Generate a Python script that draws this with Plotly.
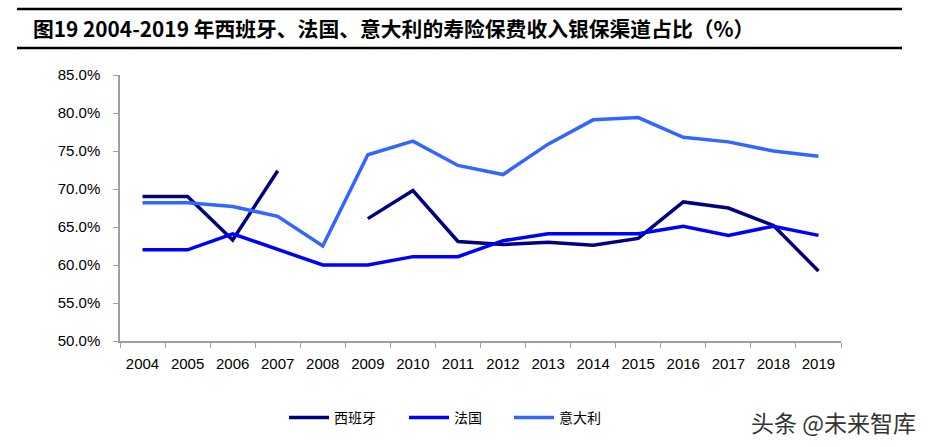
import plotly.graph_objects as go

years = [str(y) for y in range(2004, 2020)]
spain = [69.0, 69.0, 63.3, 72.4, None, 66.1, 69.8, 63.1, 62.7, 63.0, 62.6, 63.5, 68.3, 67.5, 65.2, 59.2]
france = [62.0, 62.0, 64.1, 62.0, 60.0, 60.0, 61.1, 61.1, 63.2, 64.1, 64.1, 64.1, 65.1, 63.9, 65.1, 63.9]
italy = [68.2, 68.2, 67.7, 66.4, 62.5, 74.5, 76.3, 73.1, 71.9, 75.9, 79.1, 79.4, 76.8, 76.2, 75.0, 74.3]
series_names = ["西班牙", "法国", "意大利"]
y_ticks = [50, 55, 60, 65, 70, 75, 80, 85]
y_tick_text = [f"{v:.1f}%" for v in y_ticks]
title_text = "图19 2004-2019 年西班牙、法国、意大利的寿险保费收入银保渠道占比（%）"
watermark = "头条 @未来智库"

colors = ["#000080", "#0000FF", "#3366FF"]
legend_ids = ["legend", "legend2", "legend3"]
legend_px = [284, 404, 509]

fig = go.Figure()
for name, vals, c, lid in zip(series_names, [spain, france, italy], colors, legend_ids):
    fig.add_trace(go.Scatter(x=years, y=vals, name=name, mode="lines", legend=lid,
                             line=dict(color=c, width=3.5), connectgaps=False))

legend_common = dict(orientation="h", xanchor="left", y=-(418 - 341) / 266, yanchor="middle",
                     font=dict(family="Noto Sans CJK SC", size=14, color="black"),
                     itemwidth=40, bgcolor="rgba(0,0,0,0)")
layout_legends = {lid: dict(legend_common, x=(px - 120) / 721) for lid, px in zip(legend_ids, legend_px)}

fig.update_layout(
    width=932, height=447,
    margin=dict(l=120, r=91, t=75, b=106),
    plot_bgcolor="white", paper_bgcolor="white",
    font=dict(family="Liberation Sans, Arial", size=14, color="black"),
    showlegend=True,
    **layout_legends,
)
fig.update_xaxes(type="category", tickson="boundaries", ticks="outside", ticklen=5,
                 tickcolor="#A0A0A0", showline=True, linecolor="#A0A0A0", linewidth=1.5,
                 showgrid=False, ticklabelstandoff=8, range=[-0.5, 15.5],
                 tickfont=dict(family="Liberation Sans, Arial", size=15))
fig.update_yaxes(range=[50, 85], tickvals=y_ticks, ticktext=y_tick_text, ticks="outside",
                 ticklen=5, tickcolor="#A0A0A0", showline=True, linecolor="#A0A0A0",
                 linewidth=1.5, showgrid=False, zeroline=False, ticklabelstandoff=10,
                 tickfont=dict(family="Liberation Sans, Arial", size=15))

fig.add_annotation(text=f"<b>{title_text}</b>", xref="paper", yref="paper",
                   x=(31 - 120) / 721, y=1 + (75 - 28) / 266, xanchor="left", yanchor="middle",
                   showarrow=False, font=dict(family="Noto Sans CJK SC", size=20.8, color="black"))
fig.add_shape(type="line", xref="paper", yref="paper", x0=(17 - 120) / 721, x1=(902 - 120) / 721,
              y0=1 + (75 - 9) / 266, y1=1 + (75 - 9) / 266, line=dict(color="black", width=2.5))
fig.add_shape(type="line", xref="paper", yref="paper", x0=(17 - 120) / 721, x1=(902 - 120) / 721,
              y0=1 + (75 - 48) / 266, y1=1 + (75 - 48) / 266, line=dict(color="black", width=2.5))
fig.add_annotation(text=watermark, xref="paper", yref="paper",
                   x=(918 - 120) / 721, y=-(422 - 341) / 266, xanchor="right", yanchor="middle",
                   showarrow=False,
                   font=dict(family="Noto Sans CJK SC", size=23, color="#333333",
                             shadow="1px 1px 2px white"))

fig.write_html("out.html")
